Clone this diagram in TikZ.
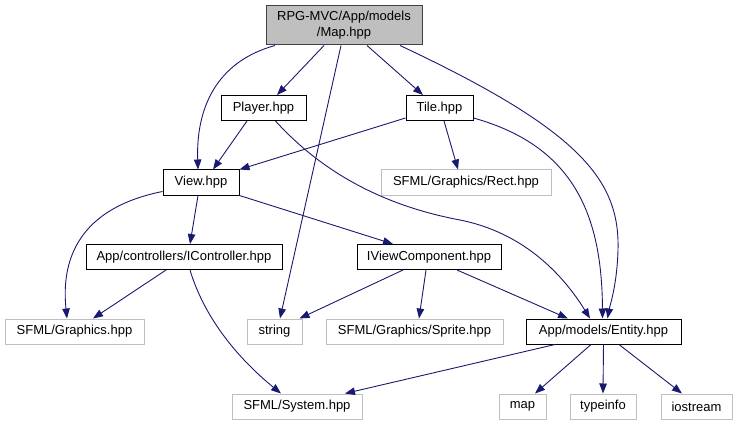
\documentclass[tikz,border=0pt]{standalone}
\usepackage{fontspec}
\setmainfont{Liberation Sans}
\usetikzlibrary{arrows.meta}
\definecolor{edgec}{HTML}{191970}
\definecolor{grayb}{HTML}{BFBFBF}
\definecolor{rootb}{HTML}{404040}
\begin{document}
\begin{tikzpicture}[x=1pt,y=-1pt,font=\fontsize{13}{16}\selectfont,
  box/.style={draw=black,line width=1pt,inner sep=0pt,minimum height=25pt},
  ext/.style={draw=grayb,line width=1pt,inner sep=0pt,minimum height=25pt},
  edge/.style={draw=edgec,line width=0.9pt,-{Triangle[length=10pt,width=7.5pt]}}]
\useasboundingbox (0,0) rectangle (739,425);
% nodes
\node[box,fill=grayb,draw=rootb,minimum width=156pt,minimum height=39pt,align=center] (root) at (344,25.5) {RPG-MVC/App/models\\/Map.hpp};
\node[box,minimum width=85pt] (player) at (263.5,108) {Player.hpp};
\node[box,minimum width=67pt] (tile) at (439.5,108) {Tile.hpp};
\node[box,minimum width=76pt] (view) at (201,182.5) {View.hpp};
\node[ext,minimum width=170pt] (rect) at (466,182.5) {SFML/Graphics/Rect.hpp};
\node[box,minimum width=196pt] (ictrl) at (184,257) {App/controllers/IController.hpp};
\node[box,minimum width=144pt] (iview) at (429,257) {IViewComponent.hpp};
\node[ext,minimum width=139pt] (sfgfx) at (74.5,331.5) {SFML/Graphics.hpp};
\node[ext,minimum width=55pt] (string) at (274.5,331.5) {string};
\node[ext,minimum width=177pt] (sprite) at (414.5,331.5) {SFML/Graphics/Sprite.hpp};
\node[box,minimum width=155pt] (entity) at (603.5,331.5) {App/models/Entity.hpp};
\node[ext,minimum width=130pt] (sfsys) at (297,406.5) {SFML/System.hpp};
\node[ext,minimum width=47pt] (map) at (522.5,406.5) {map};
\node[ext,minimum width=66pt] (typeinfo) at (603,406.5) {typeinfo};
\node[ext,minimum width=71pt] (iostream) at (696.5,406.5) {iostream};
% edges from root
\draw[edge] ([xshift=-69pt]root.south) .. controls (215,62) and (196,110) .. ([xshift=-3pt]view.north);
\draw[edge] ([xshift=-20pt]root.south) -- ([xshift=13.5pt]player.north);
\draw[edge] ([xshift=-3pt]root.south) -- ([xshift=5.5pt]string.north);
\draw[edge] ([xshift=23pt]root.south) -- ([xshift=-16.5pt]tile.north);
\draw[edge] ([xshift=56pt]root.south) .. controls (580,130) and (620,180) .. (618,250) .. controls (617,285) and (610,305) .. ([xshift=4pt]entity.north);
% player
\draw[edge] ([xshift=-16.5pt]player.south) -- ([xshift=12pt]view.north);
\draw[edge] ([xshift=12pt]player.south) .. controls (320,170) and (380,205) .. (460,220) .. controls (520,232) and (560,270) .. ([xshift=-13.5pt]entity.north);
% tile
\draw[edge] ([yshift=3pt]tile.south west) -- (view.north east);
\draw[edge] ([xshift=4.5pt]tile.south) -- ([xshift=-8pt]rect.north);
\draw[edge] ([yshift=3pt]tile.south east) .. controls (570,145) and (602,210) .. ([xshift=-1pt]entity.north);
% view
\draw[edge] ([xshift=-3pt]view.south) -- ([xshift=6pt]ictrl.north);
\draw[edge] (view.south east) -- ([xshift=-36pt]iview.north);
\draw[edge] ([yshift=4pt]view.south west) .. controls (70,210) and (62,270) .. ([xshift=-7.5pt]sfgfx.north);
% icontroller
\draw[edge] ([xshift=-18pt]ictrl.south) -- ([xshift=18.5pt]sfgfx.north);
\draw[edge] ([xshift=6pt]ictrl.south) .. controls (205,320) and (240,360) .. ([xshift=-16pt]sfsys.north);
% iview
\draw[edge] ([xshift=-26pt]iview.south) -- ([xshift=25pt]string.north);
\draw[edge] ([xshift=-3pt]iview.south) -- ([xshift=4.5pt]sprite.north);
\draw[edge] ([xshift=28pt]iview.south) -- ([xshift=-35.5pt]entity.north);
% entity
\draw[edge] ([xshift=-48.5pt]entity.south) -- ([xshift=48pt]sfsys.north);
\draw[edge] ([xshift=-12.5pt]entity.south) -- ([xshift=12.5pt]map.north);
\draw[edge] (entity.south) -- (typeinfo.north);
\draw[edge] ([xshift=15.5pt]entity.south) -- ([xshift=-14.5pt]iostream.north);
\end{tikzpicture}
\end{document}
